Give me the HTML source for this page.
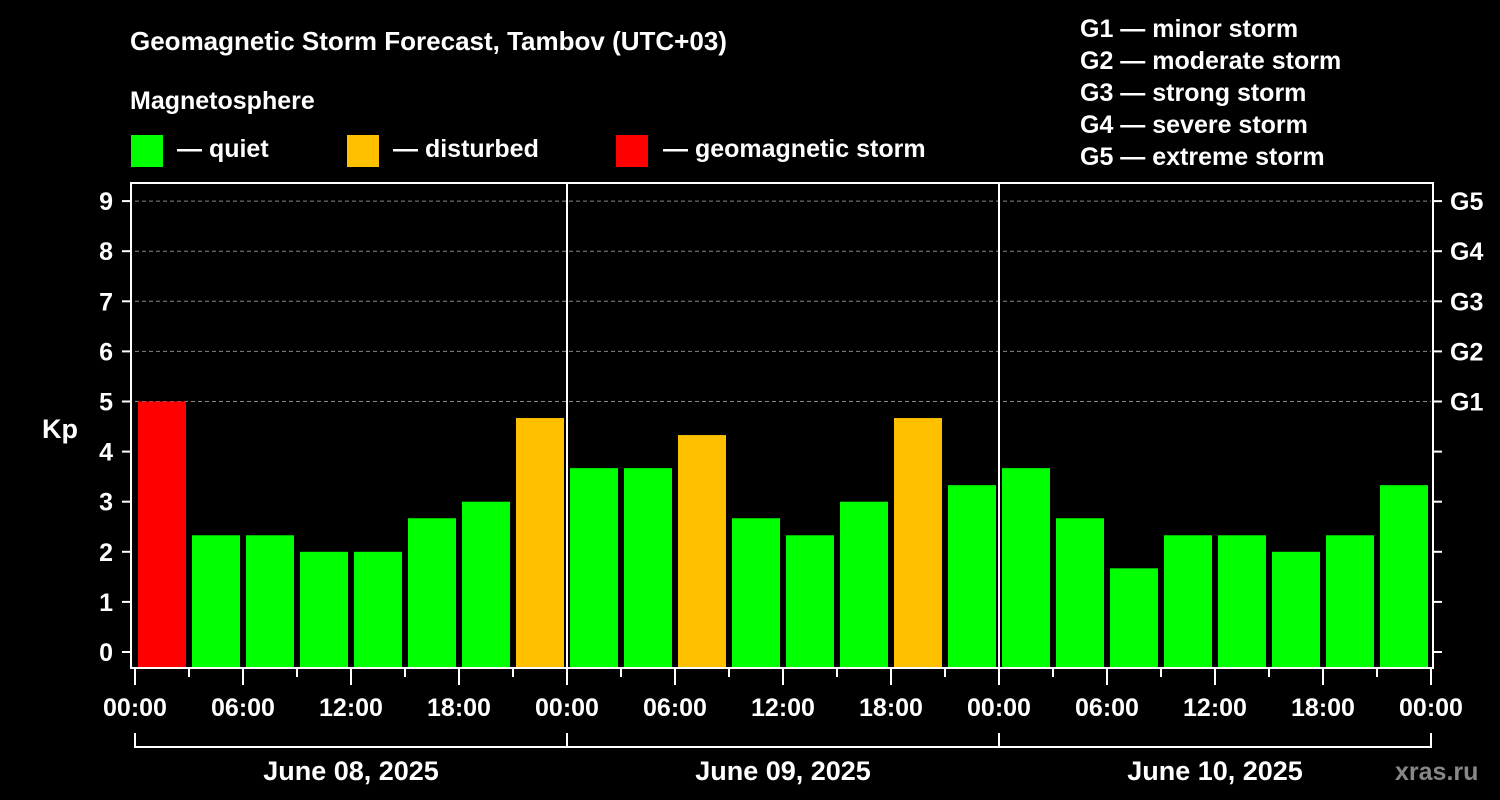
<!DOCTYPE html>
<html><head><meta charset="utf-8"><style>
html,body{margin:0;padding:0;background:#000;}
svg{display:block;font-family:"Liberation Sans",Arial,sans-serif;font-weight:bold;}
</style></head><body>
<svg id="chart" width="1500" height="800" viewBox="0 0 1500 800">
<rect x="0" y="0" width="1500" height="800" fill="#000"/>
<text x="130" y="50" fill="#fff" font-size="26">Geomagnetic Storm Forecast, Tambov (UTC+03)</text>
<text x="130" y="109" fill="#fff" font-size="25">Magnetosphere</text>
<g><rect x="131" y="135" width="32" height="32" fill="#00ff00"/><text x="177" y="157" fill="#fff" font-size="25">— quiet</text></g>
<g><rect x="347" y="135" width="32" height="32" fill="#ffc000"/><text x="393" y="157" fill="#fff" font-size="25">— disturbed</text></g>
<g><rect x="616" y="135" width="32" height="32" fill="#ff0000"/><text x="663" y="157" fill="#fff" font-size="25">— geomagnetic storm</text></g>
<g fill="#fff" font-size="25">
<text x="1080" y="37">G1 — minor storm</text>
<text x="1080" y="69">G2 — moderate storm</text>
<text x="1080" y="101">G3 — strong storm</text>
<text x="1080" y="133">G4 — severe storm</text>
<text x="1080" y="165">G5 — extreme storm</text>
</g>
<text x="42" y="438" fill="#fff" font-size="27">Kp</text>
<text x="1395" y="780" fill="#888" font-size="25">xras.ru</text>
<g id="grid"></g><g id="bars"></g><g id="axes"></g>
</svg>
<script>
const days = ["June 08, 2025","June 09, 2025","June 10, 2025"];
const kpValues = [5,2.33,2.33,2,2,2.67,3,4.67, 3.67,3.67,4.33,2.67,2.33,3,4.67,3.33, 3.67,2.67,1.67,2.33,2.33,2,2.33,3.33];
const hourLabels = ["00:00","06:00","12:00","18:00"];
const yTicks = [0,1,2,3,4,5,6,7,8,9];
const gLabels = ["G1","G2","G3","G4","G5"];
const NS="http://www.w3.org/2000/svg";
const L=135, SLOT=54, PT=183, PB=668;
const xs=i=>L+i*SLOT;
const ys=v=>652-v*50.1;
function mk(tag,attrs,parent,txt){const e=document.createElementNS(NS,tag);for(const k in attrs)e.setAttribute(k,attrs[k]);if(txt!==undefined)e.textContent=txt;parent.appendChild(e);return e;}
const grid=document.getElementById('grid'),bars=document.getElementById('bars'),axes=document.getElementById('axes');
const R=xs(kpValues.length);
yTicks.forEach(v=>{
  if(v>=5){const g=mk('line',{x1:L,x2:R,y1:ys(v),y2:ys(v),stroke:'#888','stroke-dasharray':'4,3','stroke-width':1},grid);
  
  }
  const t=mk('line',{x1:122,x2:131,y1:ys(v),y2:ys(v),stroke:'#fff','stroke-width':2},axes);
  
  
  const tr=mk('line',{x1:1433,x2:1442,y1:ys(v),y2:ys(v),stroke:'#fff','stroke-width':2},axes);
  
  
  const lb=mk('text',{x:113,y:ys(v)+9,fill:'#fff','font-size':25,'text-anchor':'end'},axes,String(v));
  
  
});
gLabels.forEach((g,i)=>{
  const t=mk('text',{x:1450,y:ys(5+i)+9,fill:'#fff','font-size':25},axes,g);
  
  
});
kpValues.forEach((v,i)=>{
  const c=v>=5?'#ff0000':(v>=4?'#ffc000':'#00ff00');
  const top=ys(v);
  const b=mk('rect',{x:xs(i)+3,y:top,width:48,height:PB-top,fill:c},bars);
  
  
});
// frame
const fr=mk('rect',{x:131,y:PT,width:1302,height:PB-PT,fill:'none',stroke:'#fff','stroke-width':2},axes);


for(let d=1;d<days.length;d++){
  const s=mk('line',{x1:xs(d*8),x2:xs(d*8),y1:PT,y2:PB,stroke:'#fff','stroke-width':2},axes);
  
  
}
for(let i=0;i<=kpValues.length;i++){
  const major=i%2===0;
  const t=mk('line',{x1:xs(i),x2:xs(i),y1:PB,y2:major?PB+17:PB+9,stroke:'#fff','stroke-width':2},axes);
  
  
  if(major){
    const lb=mk('text',{x:xs(i),y:716,fill:'#fff','font-size':25,'text-anchor':'middle'},axes,hourLabels[(i/2)%4]);
    
    
  }
}
const br=mk('path',{d:`M${xs(0)} 733 V747 H${R} V733`+[1,2].map(d=>` M${xs(d*8)} 733 V747`).join(''),stroke:'#fff','stroke-width':2,fill:'none'},axes);


days.forEach((d,i)=>{
  const t=mk('text',{x:(xs(i*8)+xs(i*8+8))/2,y:780,fill:'#fff','font-size':27,'text-anchor':'middle'},axes,d);
  
  
});
</script>
</body></html>
